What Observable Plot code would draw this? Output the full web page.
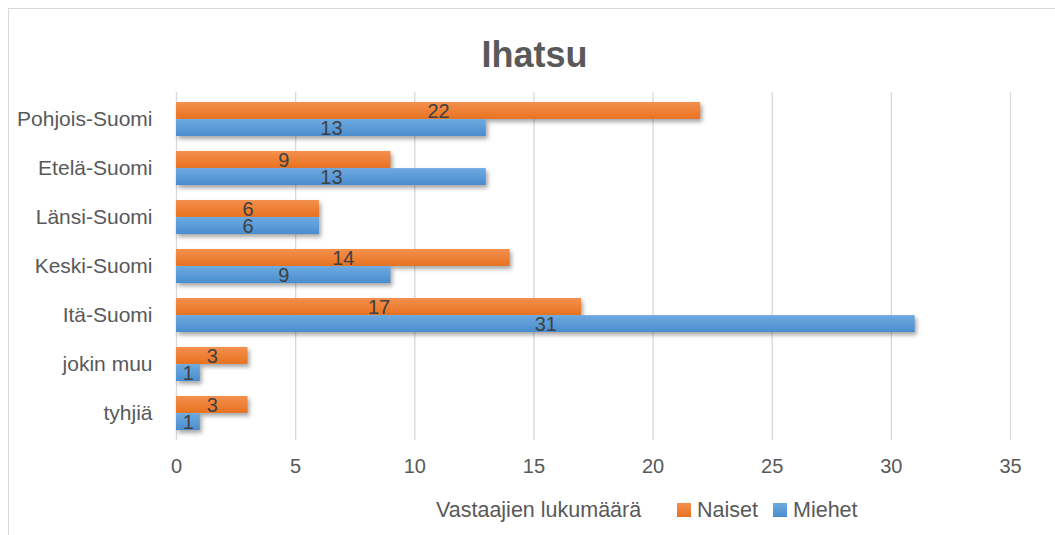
<!DOCTYPE html>
<html>
<head>
<meta charset="utf-8">
<script src="https://cdn.jsdelivr.net/npm/d3@7"></script>
<script src="https://cdn.jsdelivr.net/npm/@observablehq/plot@0.6"></script>
<style>
  html, body { margin: 0; padding: 0; background: #fff; }
  #wrap { position: relative; width: 1055px; height: 535px; overflow: hidden; font-family: "Liberation Sans", Arial, sans-serif; }
  #frame { position: absolute; left: 8px; top: 8px; width: 1100px; height: 600px; border: 1px solid #d9d9d9; box-sizing: border-box; }
  #title { position: relative; height: 85px; box-sizing: border-box; padding-top: 34px; padding-left: 14px; text-align: center; font-size: 36px; font-weight: bold; color: #595959; line-height: 42px; }
  #chart { position: relative; height: 400px; }
  #legend { position: relative; height: 50px; font-size: 21.5px; color: #595959; white-space: nowrap; }
  #legend span { position: absolute; top: 13px; line-height: 24px; }
  #legend i { position: absolute; top: 18px; width: 14px; height: 14px; }
  svg g[aria-label="bar"] { filter: drop-shadow(2px 3px 2px rgba(0,0,0,0.35)); }
  svg g[aria-label="y-axis tick label"] { font-size: 21px; }
</style>
</head>
<body>
<div id="wrap">
  <div id="frame"></div>
  <div id="title">Ihatsu</div>
  <div id="chart"></div>
  <div id="legend">
    <span style="left:436px">Vastaajien lukumäärä</span>
    <i style="left:677px;background:linear-gradient(#f4904f,#e8721f)"></i>
    <span style="left:697px">Naiset</span>
    <i style="left:773px;background:linear-gradient(#6eaae0,#4a8dcf)"></i>
    <span style="left:793px">Miehet</span>
  </div>
</div>
<script>
const regions = ["Pohjois-Suomi", "Etelä-Suomi", "Länsi-Suomi", "Keski-Suomi", "Itä-Suomi", "jokin muu", "tyhjiä"];
const naiset = [22, 9, 6, 14, 17, 3, 3];
const miehet = [13, 13, 6, 9, 31, 1, 1];
const xTicks = [0, 5, 10, 15, 20, 25, 30, 35];

const naisetRows = regions.map((r, i) => ({region: r, value: naiset[i]}));
const miehetRows = regions.map((r, i) => ({region: r, value: miehet[i]}));

function gradients() {
  const ns = "http://www.w3.org/2000/svg";
  const defs = document.createElementNS(ns, "defs");
  const mk = (id, c1, c2) => {
    const g = document.createElementNS(ns, "linearGradient");
    g.setAttribute("id", id);
    g.setAttribute("x1", "0"); g.setAttribute("y1", "0");
    g.setAttribute("x2", "0"); g.setAttribute("y2", "1");
    [[0, c1], [1, c2]].forEach(([o, c]) => {
      const s = document.createElementNS(ns, "stop");
      s.setAttribute("offset", o);
      s.setAttribute("stop-color", c);
      g.appendChild(s);
    });
    defs.appendChild(g);
  };
  mk("gradO", "#f4904f", "#e8721f");
  mk("gradB", "#6eaae0", "#4a8dcf");
  return defs;
}

const plot = Plot.plot({
  width: 1055,
  height: 400,
  marginTop: 7,
  marginBottom: 45,
  marginLeft: 176,
  marginRight: 45,
  style: {fontFamily: "'Liberation Sans', Arial, sans-serif", fontSize: "20px", color: "#595959", background: "transparent", overflow: "visible"},
  x: {domain: [0, 35], ticks: xTicks, label: null, tickSize: 0, tickPadding: 18, line: false},
  y: {domain: regions, paddingInner: 0.31, paddingOuter: 0.14, label: null, tickSize: 0, tickPadding: 24},
  marks: [
    gradients,
    Plot.ruleX(xTicks, {x: d => d, stroke: "#d9d9d9", strokeWidth: 1.3}),
    Plot.barX(naisetRows, {x: "value", y: "region", fill: "url(#gradO)", insetBottom: 17.1}),
    Plot.barX(miehetRows, {x: "value", y: "region", fill: "url(#gradB)", insetTop: 17.1}),
    Plot.text(naisetRows, {x: d => d.value / 2, y: "region", text: d => String(d.value), dy: -8, fill: "#404040", fontSize: 20}),
    Plot.text(miehetRows, {x: d => d.value / 2, y: "region", text: d => String(d.value), dy: 9, fill: "#404040", fontSize: 20})
  ]
});
document.getElementById("chart").appendChild(plot);
</script>
</body>
</html>
